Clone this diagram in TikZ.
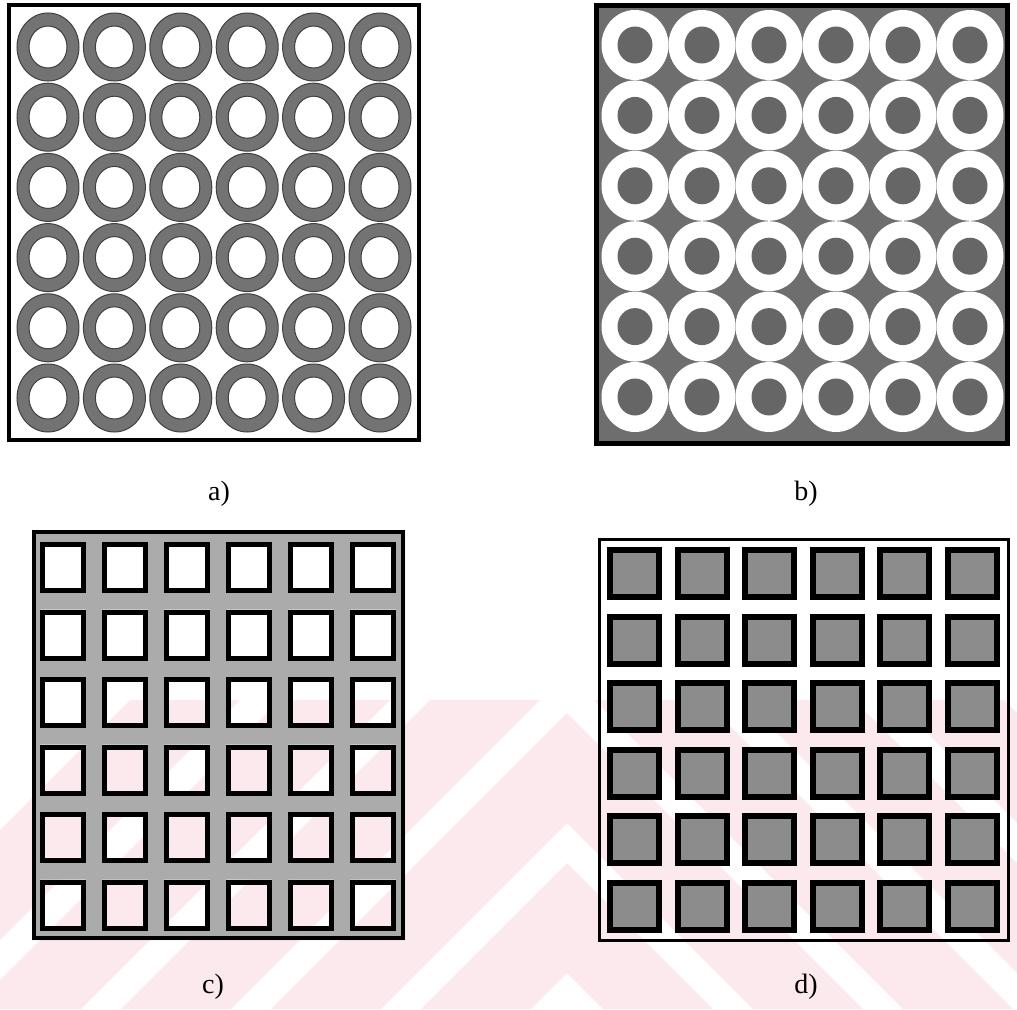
\documentclass[tikz,border=0pt]{standalone}
\usepackage{fontspec}
\setmainfont{Liberation Serif}
\definecolor{wasser}{RGB}{252,233,237}
\tikzset{
    rahmen/.style={draw=black, line width=4pt},
    ring/.style={fill=black!55, draw=black!75, line width=1pt, even odd rule},
    scheibe/.style={fill=black!60},
    gitter/.style={fill=black!33, even odd rule},
    fenster/.style={draw=black, line width=5pt},
    feld/.style={fill=black!45, draw=black, line width=6pt},
    marke/.style={font=\fontsize{28}{34}\selectfont, inner sep=0pt}
}

\begin{document}
\begin{tikzpicture}[x=1pt, y=-1pt]
    \useasboundingbox (0,0) rectangle (1017,1009);
    % watermark
    \begin{scope}
        \clip (0,700) rectangle (1017,1009);
        \foreach \a in {263,413,563,713,863}
            \fill[wasser] ({567-(1009-\a)},1009) -- (567,\a) -- ({567+(1009-\a)},1009)
                -- ({567+(899-\a)},1009) -- (567,{\a+110}) -- ({567-(899-\a)},1009) -- cycle;
    \end{scope}
    % a) rings
    \foreach \i in {0,...,5}
        \foreach \j in {0,...,5}
            \path[ring] ({48+66.4*\i},{47+70.2*\j}) ellipse [x radius=31, y radius=34]
                ({48+66.4*\i},{47+70.2*\j}) ellipse [x radius=19, y radius=21];
    \draw[rahmen] (9,5) rectangle (419,440);
    % b) white rings on grey
    \fill[black!57] (594,3) rectangle (1010,446);
    \foreach \i in {0,...,5}
        \foreach \j in {0,...,5} {
            \fill[white] ({635+67*\i},{45+70.4*\j}) ellipse [x radius=33.5, y radius=35];
            \fill[scheibe] ({635+67*\i},{45+70.4*\j}) ellipse [x radius=17.5, y radius=18.5];
        }
    \draw[rahmen, line width=5pt] (596.5,5.5) rectangle (1007.5,443.5);
    \draw[line width=3pt] (595.5,3) -- (595.5,446);
    % c) grid with open squares
    \fill[gitter] (32,530) rectangle (405,940)
        \foreach \i in {0,...,5} {\foreach \j in {0,...,5} {({40+62*\i},{542+67.5*\j}) rectangle ++(46,51)}};
    \foreach \i in {0,...,5}
        \foreach \j in {0,...,5}
            \draw[fenster] ({42.5+62*\i},{544.5+67.5*\j}) rectangle ++(41,46);
    \draw[rahmen] (34,532) rectangle (403,938);
    % d) grey squares
    \foreach \i in {0,...,5}
        \foreach \j in {0,...,5}
            \path[feld] ({610+67.5*\i},{550+66.5*\j}) rectangle ++(49,47);
    \draw[rahmen, line width=3pt] (599.5,539.5) rectangle (1008.5,940.5);
    % labels
    \path node[marke] (la) at (219,494) {a)}
        node[marke] (lb) at (806,494) {b)}
        node[marke] (lc) at (213,987) {c)}
        node[marke] (ld) at (806,987) {d)};
\end{tikzpicture}
\end{document}
